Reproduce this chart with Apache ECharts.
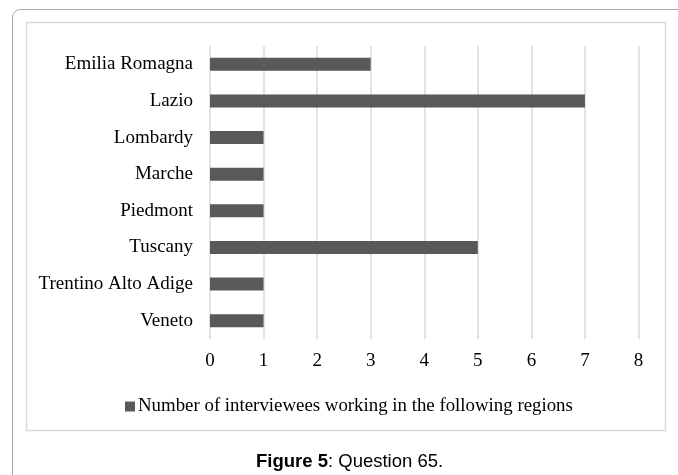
<!DOCTYPE html>
<html>
<head>
<meta charset="utf-8">
<script src="https://cdn.jsdelivr.net/npm/echarts@6/dist/echarts.min.js"></script>
<style>
  html, body { margin: 0; padding: 0; background: #fff; }
  #main { width: 678px; height: 475px; }
</style>
</head>
<body>
<div id="main"></div>
<script>
// data
var regions = ['Emilia Romagna', 'Lazio', 'Lombardy', 'Marche', 'Piedmont', 'Tuscany', 'Trentino Alto Adige', 'Veneto'];
var interviewees = [3, 7, 1, 1, 1, 5, 1, 1];
var seriesName = 'Number of interviewees working in the following regions';
var xTicks = [0, 8, 1]; // min, max, step

var serif = '"Liberation Serif", "Times New Roman", serif';
var sans = '"Liberation Sans", Arial, sans-serif';

var myChart = echarts.init(document.getElementById('main'));
var option = {
  backgroundColor: '#fff',
  animation: false,
  title: {
    text: '{b|Figure 5}: Question 65.',
    left: 251,
    top: 447,
    textStyle: {
      fontFamily: sans,
      fontSize: 18.5,
      fontWeight: 'normal',
      color: '#000',
      rich: {
        b: { fontFamily: sans, fontSize: 18.5, fontWeight: 'bold', color: '#000' }
      }
    }
  },
  graphic: [
    {
      type: 'rect',
      shape: { x: 12.5, y: 9.5, width: 700, height: 500, r: 8 },
      style: { fill: 'none', stroke: '#a6a6a6', lineWidth: 1 },
      silent: true
    },
    {
      type: 'rect',
      shape: { x: 26.5, y: 22.5, width: 639, height: 408 },
      style: { fill: 'none', stroke: '#d9d9d9', lineWidth: 1.5 },
      silent: true
    }
  ],
  legend: {
    data: [seriesName],
    left: 120,
    top: 392,
    icon: 'rect',
    itemWidth: 10,
    itemHeight: 10,
    itemGap: 10,
    textStyle: { fontFamily: serif, fontSize: 18.85, color: '#000', padding: [0, 0, 0, -2] }
  },
  grid: {
    left: 210,
    right: 39.5,
    top: 46,
    bottom: 136,
    containLabel: false
  },
  xAxis: {
    type: 'value',
    min: xTicks[0],
    max: xTicks[1],
    interval: xTicks[2],
    axisLine: { show: false },
    axisTick: { show: false },
    axisLabel: { fontFamily: serif, fontSize: 19, color: '#000', margin: 13 },
    splitLine: { show: true, lineStyle: { color: '#d9d9d9', width: 1.5 } }
  },
  yAxis: {
    type: 'category',
    data: regions,
    inverse: true,
    axisLine: { show: false },
    axisTick: { show: false },
    axisLabel: { fontFamily: serif, fontSize: 19, color: '#000', margin: 17 },
    splitLine: { show: false }
  },
  series: [
    {
      name: seriesName,
      type: 'bar',
      data: interviewees,
      barWidth: 13,
      itemStyle: { color: '#595959' }
    }
  ]
};
myChart.setOption(option);
</script>
</body>
</html>
